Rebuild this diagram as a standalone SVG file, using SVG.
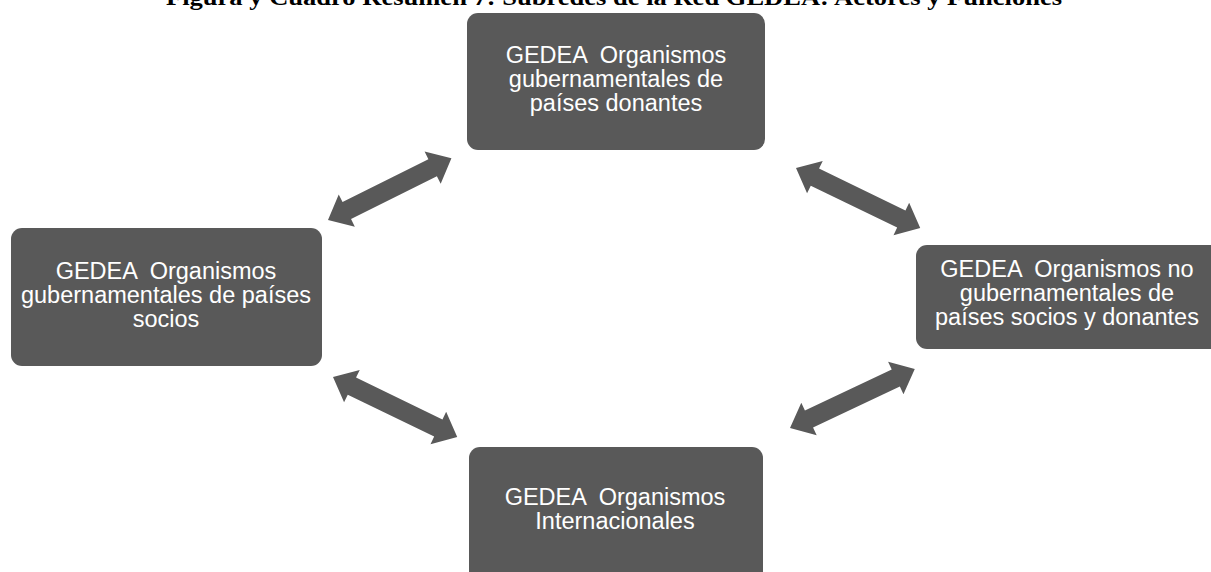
<svg xmlns="http://www.w3.org/2000/svg" xmlns:xlink="http://www.w3.org/1999/xlink" width="1211" height="572" viewBox="0 0 1211 572">
<style>
.box{fill:#595959}
.lbl{font-family:"Liberation Sans",Arial,sans-serif;font-size:23.5px;fill:#ffffff;text-anchor:middle;white-space:pre}
.title{font-family:"Liberation Serif","Times New Roman",serif;font-size:24px;font-weight:bold;fill:#000000}
.arr{fill:#595959}
</style>
<defs>
<polygon id="dblarrow" class="arr" points="0,0 21,-18 21,-9.5 117,-9.5 117,-18 138,0 117,18 117,9.5 21,9.5 21,18"/>
</defs>
<rect width="1211" height="572" fill="#ffffff"/>
<text class="title" x="166" y="4.5" textLength="896" lengthAdjust="spacingAndGlyphs">Figura y Cuadro Resumen 7: Subredes de la Red GEDEA: Actores y Funciones</text>
<g id="connectors">
<use xlink:href="#dblarrow" transform="translate(328,220) rotate(-26.57)"/>
<use xlink:href="#dblarrow" transform="translate(796,168) rotate(25.82)"/>
<use xlink:href="#dblarrow" transform="translate(333,377) rotate(25.82)"/>
<use xlink:href="#dblarrow" transform="translate(790,428) rotate(-25.29)"/>
</g>
<g id="node-top">
<rect class="box" x="467" y="13" width="298" height="137" rx="11"/>
<text class="lbl" x="616" y="63" xml:space="preserve">GEDEA  Organismos</text>
<text class="lbl" x="616" y="87">gubernamentales de</text>
<text class="lbl" x="616" y="111">países donantes</text>
</g>
<g id="node-left">
<rect class="box" x="11" y="228" width="311" height="138" rx="11"/>
<text class="lbl" x="166" y="279" xml:space="preserve">GEDEA  Organismos</text>
<text class="lbl" x="166" y="303">gubernamentales de países</text>
<text class="lbl" x="166" y="327">socios</text>
</g>
<g id="node-right">
<rect class="box" x="916" y="245" width="306" height="104" rx="11"/>
<text class="lbl" x="1067" y="277" xml:space="preserve">GEDEA  Organismos no</text>
<text class="lbl" x="1067" y="301">gubernamentales de</text>
<text class="lbl" x="1067" y="325">países socios y donantes</text>
</g>
<g id="node-bottom">
<rect class="box" x="469" y="447" width="294" height="140" rx="11"/>
<text class="lbl" x="615" y="505" xml:space="preserve">GEDEA  Organismos</text>
<text class="lbl" x="615" y="529">Internacionales</text>
</g>
</svg>
